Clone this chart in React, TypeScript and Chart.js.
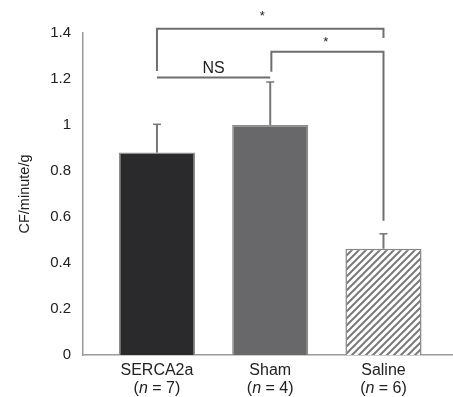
import React, { useEffect, useRef } from "react";
import { Chart, registerables } from "chart.js";

Chart.register(...registerables);

const groups = ["SERCA2a", "Sham", "Saline"];
const groupN = ["7", "4", "6"];
const means = [0.88, 1.0, 0.462];
const errors = [0.123, 0.187, 0.065];
const yTicks = [0, 0.2, 0.4, 0.6, 0.8, 1, 1.2, 1.4];
const yTitle = "CF/minute/g";

// significance brackets
const bracketFrom = [0, 1.01];
const bracketTo = [2, 2];
const bracketTop = [1.419, 1.319];
const bracketLeftBottom = [1.235, 1.232];
const bracketRightBottom = [1.378, 0.584];
const starLabels = ["*", "*"];
const starX = [0.93, 1.49];
const starY = [1.47, 1.357];
const nsFrom = 0;
const nsTo = 1;
const nsY = 1.207;
const nsLabel = "NS";

const FONT = "'Liberation Sans', Arial, sans-serif";

function makeHatch(): CanvasPattern | string {
  const c = document.createElement("canvas");
  const s = 7;
  c.width = s;
  c.height = s;
  const g = c.getContext("2d");
  if (!g) return "#fff";
  g.fillStyle = "#ffffff";
  g.fillRect(0, 0, s, s);
  g.strokeStyle = "#7a7a7a";
  g.lineWidth = 2;
  g.beginPath();
  g.moveTo(-1, s + 1);
  g.lineTo(s + 1, -1);
  g.moveTo(-1, 1);
  g.lineTo(1, -1);
  g.moveTo(s - 1, s + 1);
  g.lineTo(s + 1, s - 1);
  g.stroke();
  return g.createPattern(c, "repeat") || "#fff";
}

const overlayPlugin = {
  id: "overlay",
  afterDatasetsDraw(chart: any) {
    const { ctx } = chart;
    const xs = chart.scales.x;
    const ys = chart.scales.y;
    ctx.save();
    // error bars
    ctx.strokeStyle = "#767676";
    means.forEach((m, i) => {
      const x = xs.getPixelForValue(i);
      const y0 = ys.getPixelForValue(m);
      const y1 = ys.getPixelForValue(m + errors[i]);
      ctx.lineWidth = 2;
      ctx.beginPath();
      ctx.moveTo(x, y0);
      ctx.lineTo(x, y1);
      ctx.stroke();
      ctx.lineWidth = 1.5;
      ctx.beginPath();
      ctx.moveTo(x - 4, y1);
      ctx.lineTo(x + 4, y1);
      ctx.stroke();
    });
    // brackets
    ctx.strokeStyle = "#6e6e6e";
    ctx.lineWidth = 2;
    bracketFrom.forEach((f, i) => {
      const xl = xs.getPixelForValue(f);
      const xr = xs.getPixelForValue(bracketTo[i]);
      ctx.beginPath();
      ctx.moveTo(xl, ys.getPixelForValue(bracketLeftBottom[i]));
      ctx.lineTo(xl, ys.getPixelForValue(bracketTop[i]));
      ctx.lineTo(xr, ys.getPixelForValue(bracketTop[i]));
      ctx.lineTo(xr, ys.getPixelForValue(bracketRightBottom[i]));
      ctx.stroke();
    });
    // NS line
    const nl = xs.getPixelForValue(nsFrom);
    const nr = xs.getPixelForValue(nsTo);
    const ny = ys.getPixelForValue(nsY);
    ctx.beginPath();
    ctx.moveTo(nl, ny);
    ctx.lineTo(nr, ny);
    ctx.stroke();
    ctx.fillStyle = "#222";
    ctx.font = `16px ${FONT}`;
    ctx.textAlign = "center";
    ctx.textBaseline = "alphabetic";
    ctx.fillText(nsLabel, (nl + nr) / 2, ny - 4);
    // stars
    ctx.font = `13px ${FONT}`;
    ctx.textBaseline = "middle";
    starLabels.forEach((s, i) => {
      ctx.fillText(s, xs.getPixelForValue(starX[i]), ys.getPixelForValue(starY[i]));
    });
    // second line of x labels with italic n
    ctx.textBaseline = "top";
    ctx.textAlign = "left";
    groups.forEach((_, i) => {
      const cx = xs.getPixelForValue(i);
      const parts = [
        { t: "(", f: `16px ${FONT}` },
        { t: "n", f: `italic 16px ${FONT}` },
        { t: " = " + groupN[i] + ")", f: `16px ${FONT}` },
      ];
      let w = 0;
      parts.forEach((p) => {
        ctx.font = p.f;
        w += ctx.measureText(p.t).width;
      });
      let x = cx - w / 2;
      const y = xs.top + 6 + 19.2;
      parts.forEach((p) => {
        ctx.font = p.f;
        ctx.fillText(p.t, x, y);
        x += ctx.measureText(p.t).width;
      });
    });
    ctx.restore();
  },
};

export default function App() {
  const ref = useRef<HTMLCanvasElement | null>(null);
  useEffect(() => {
    if (!ref.current) return;
    const hatch = makeHatch();
    const chart = new Chart(ref.current, {
      type: "bar",
      data: {
        datasets: [
          {
            data: means.map((m, i) => ({ x: i, y: m })),
            backgroundColor: ["#2a292b", "#68676a", hatch as any],
            borderColor: ["#8c8c8c", "#8c8c8c", "#858585"],
            borderWidth: 1.5,
            barPercentage: 0.84,
            categoryPercentage: 0.8,
          },
        ],
      },
      options: {
        responsive: false,
        animation: false,
        layout: { padding: { left: 0, right: 1, top: 33, bottom: 0 } },
        plugins: { legend: { display: false }, tooltip: { enabled: false } },
        scales: {
          x: {
            type: "linear",
            offset: false,
            min: -0.653,
            max: 2.605,
            grid: { display: false, drawTicks: false, offset: false },
            border: { display: true, color: "#9a9a9a", width: 1.5 },
            afterBuildTicks: (s: any) => {
              s.ticks = groups.map((_, i) => ({ value: i }));
            },
            afterFit: (s: any) => {
              s.height = 42;
            },
            ticks: {
              padding: 6,
              color: "#222",
              font: { family: FONT, size: 16 },
              callback: (v: any) => groups[v as number] ?? "",
              maxRotation: 0,
              autoSkip: false,
            },
          },
          y: {
            min: 0,
            max: 1.4,
            grid: { display: false, drawTicks: false },
            border: { display: true, color: "#9a9a9a", width: 1.5 },
            afterBuildTicks: (s: any) => {
              s.ticks = yTicks.map((v) => ({ value: v }));
            },
            afterFit: (s: any) => {
              s.width = 83;
            },
            ticks: {
              padding: 12,
              color: "#222",
              font: { family: FONT, size: 15 },
              callback: (v: any) => String(Number(Number(v).toFixed(1))),
            },
            title: {
              display: true,
              text: yTitle,
              color: "#222",
              font: { family: FONT, size: 14.5 },
              padding: { top: 16, bottom: 0 },
            },
          },
        },
      },
      plugins: [overlayPlugin],
    });
    return () => chart.destroy();
  }, []);
  return (
    <div style={{ position: "fixed", left: 0, top: 0, width: 453, height: 397, background: "#fff" }}>
      <canvas ref={ref} width={453} height={397} />
    </div>
  );
}
